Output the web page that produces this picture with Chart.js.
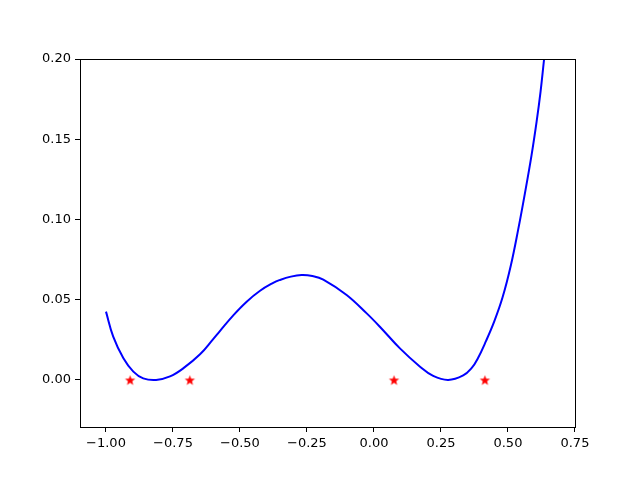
<!DOCTYPE html>
<html>
<head>
<meta charset="utf-8">
<script src="https://cdn.jsdelivr.net/npm/chart.js@4"></script>
<style>
  body { margin: 0; background: #fff; }
</style>
</head>
<body>
<canvas id="chart" width="640" height="480"></canvas>
<script>
// curve
var curveX = [-1.0, -0.973, -0.935, -0.898, -0.861, -0.813, -0.761, -0.712, -0.649, -0.6, -0.575, -0.525, -0.475, -0.425, -0.376, -0.353, -0.31, -0.27, -0.23, -0.189, -0.102, -0.027, 0.022, 0.097, 0.172, 0.221, 0.277, 0.333, 0.365, 0.387, 0.418, 0.449, 0.48, 0.511, 0.538, 0.563, 0.588, 0.607, 0.622, 0.635, 0.65];
var curveY = [0.0426, 0.027, 0.0135, 0.0052, 0.001, 0.0, 0.0022, 0.0072, 0.016, 0.0255, 0.0305, 0.0403, 0.0488, 0.0556, 0.0605, 0.0622, 0.0644, 0.0654, 0.0648, 0.0626, 0.053, 0.0415, 0.0332, 0.0197, 0.0083, 0.0025, 0.0, 0.0028, 0.0075, 0.0132, 0.0242, 0.0365, 0.0515, 0.0715, 0.0935, 0.116, 0.14, 0.161, 0.18, 0.2, 0.222];

// red stars
var starX = [-0.91, -0.687, 0.075, 0.414];
var starY = [0, 0, 0, 0];

var xTicks = [-1.0, -0.75, -0.5, -0.25, 0.0, 0.25, 0.5, 0.75];
var yTicks = [0.0, 0.05, 0.1, 0.15, 0.2];

function fmt(v) {
    return v.toFixed(2).replace('-', '\u2212');
}

function makeStar(r) {
    var c = document.createElement('canvas');
    c.width = c.height = Math.ceil(2 * r + 2);
    var g = c.getContext('2d');
    var cx = c.width / 2, cy = c.height / 2 + r * 0.1;
    g.beginPath();
    for (var k = 0; k < 10; k++) {
        var rad = (k % 2 == 0) ? r : r * 0.42;
        var a = -Math.PI / 2 + k * Math.PI / 5;
        var px = cx + rad * Math.cos(a), py = cy + rad * Math.sin(a);
        if (k == 0) g.moveTo(px, py); else g.lineTo(px, py);
    }
    g.closePath();
    g.fillStyle = '#ff0000';
    g.fill();
    return c;
}

var frame = {
    id: 'frame',
    afterDraw: function(chart) {
        var a = chart.chartArea, ctx = chart.ctx;
        ctx.save();
        ctx.strokeStyle = '#000';
        ctx.lineWidth = 1;
        ctx.strokeRect(Math.round(a.left) + 0.5, Math.round(a.top) + 0.5,
            Math.round(a.right - a.left) - 1, Math.round(a.bottom - a.top));
        ctx.restore();
    }
};

var ctx = document.getElementById('chart').getContext('2d');
var myChart = new Chart(ctx, {
    type: 'scatter',
    data: {
        datasets: [{
            data: curveX.map(function(x, i) { return {x: x, y: curveY[i]}; }),
            showLine: true,
            borderColor: '#0000ff',
            borderWidth: 2,
            pointRadius: 0,
            tension: 0.4
        }, {
            data: starX.map(function(x, i) { return {x: x, y: starY[i]}; }),
            pointStyle: makeStar(5.4),
            pointRadius: 6,
            showLine: false
        }]
    },
    plugins: [frame],
    options: {
        responsive: false,
        animation: false,
        layout: { padding: { top: 59, right: 64, left: 0, bottom: 0 } },
        plugins: { legend: { display: false }, tooltip: { enabled: false } },
        scales: {
            x: {
                type: 'linear',
                min: -1.097,
                max: 0.754,
                border: { display: false },
                grid: { drawOnChartArea: false, color: '#000', tickLength: 5, tickWidth: 1 },
                ticks: {
                    color: '#000',
                    padding: 4,
                    maxRotation: 0,
                    font: { family: 'DejaVu Sans', size: 13 },
                    callback: function(v) { return fmt(v); }
                },
                afterBuildTicks: function(scale) {
                    scale.ticks = xTicks.map(function(v) { return {value: v}; });
                },
                afterFit: function(scale) { scale.height = 53; }
            },
            y: {
                type: 'linear',
                min: -0.0293,
                max: 0.2,
                border: { display: false },
                grid: { drawOnChartArea: false, color: '#000', tickLength: 5, tickWidth: 1 },
                ticks: {
                    color: '#000',
                    padding: 4,
                    font: { family: 'DejaVu Sans', size: 13 },
                    callback: function(v) { return fmt(v); }
                },
                afterBuildTicks: function(scale) {
                    scale.ticks = yTicks.map(function(v) { return {value: v}; });
                },
                afterFit: function(scale) { scale.width = 80; }
            }
        }
    }
});
</script>
</body>
</html>
